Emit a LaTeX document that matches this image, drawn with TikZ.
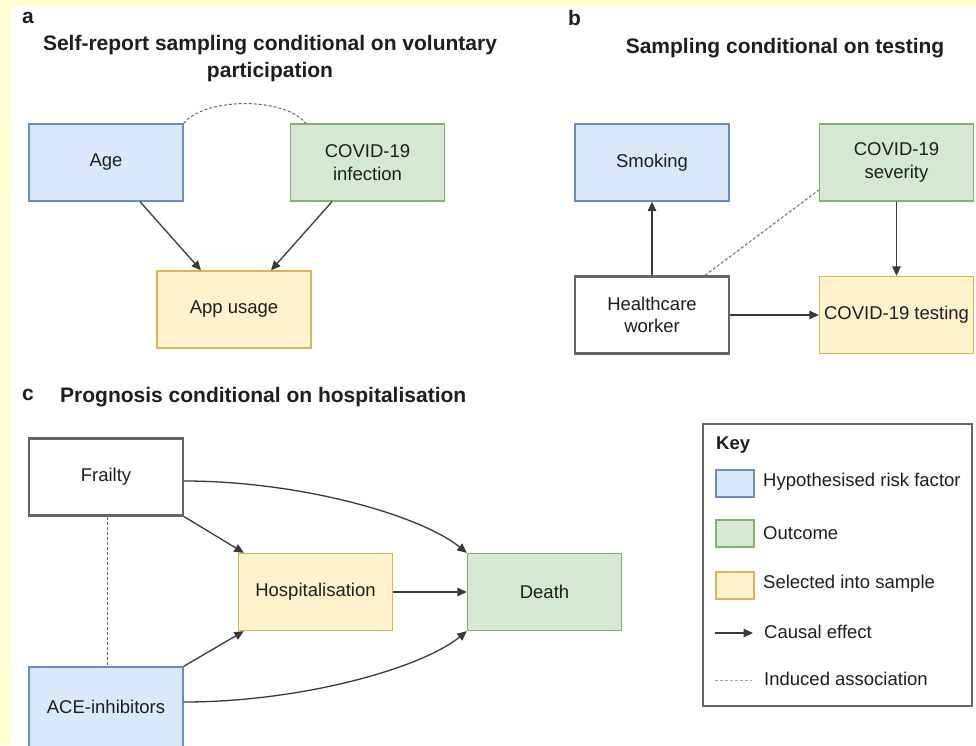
\documentclass[tikz,border=0pt]{standalone}
\usepackage{fontspec}
\setmainfont{Liberation Sans}
\usetikzlibrary{arrows.meta}

\definecolor{pagebg}{HTML}{FFFFD0}
\definecolor{riskfill}{HTML}{DAE8FC}
\definecolor{riskline}{HTML}{6C8EBF}
\definecolor{outfill}{HTML}{D5E8D4}
\definecolor{outline}{HTML}{82B366}
\definecolor{selfill}{HTML}{FFF2CC}
\definecolor{selline}{HTML}{D6B656}
\definecolor{plainline}{HTML}{666666}
\definecolor{ink}{HTML}{1E1E1E}
\definecolor{linkline}{HTML}{3A3A3A}

\tikzset{
  box/.style={rectangle, minimum width=154pt, minimum height=77pt, inner sep=0pt,
    align=center, text=ink, font=\fontsize{18.5}{22.3}\selectfont},
  riskbox/.style={box, fill=riskfill, draw=riskline, line width=1.3pt},
  outbox/.style={box, fill=outfill, draw=outline, line width=1.3pt},
  selbox/.style={box, fill=selfill, draw=selline, line width=1.3pt},
  plainbox/.style={box, fill=white, draw=plainline, line width=2.2pt},
  causal/.style={draw=linkline, line width=1.3pt, -{Triangle[length=9.5pt,width=8.5pt]}},
  induced/.style={draw=plainline, line width=1pt, dash pattern=on 3pt off 2pt},
  paneltag/.style={font=\bfseries\fontsize{21}{25}\selectfont, text=ink, inner sep=0pt},
  paneltitle/.style={font=\bfseries\fontsize{21}{27}\selectfont, text=ink, inner sep=0pt, align=center},
  keytext/.style={anchor=west, inner sep=0pt, text=ink, font=\fontsize{18.5}{22.3}\selectfont},
  swatch/.style={rectangle, minimum width=38pt, minimum height=27pt, inner sep=0pt, line width=1.3pt}
}

\begin{document}
\begin{tikzpicture}[x=1pt,y=-1pt]
  % page and margins
  \useasboundingbox (0,0) rectangle (976,745);
  \fill[pagebg] (0,0) rectangle (976,745);
  \fill[white] (10,6) rectangle (976,745);

  \begin{scope}
  \clip (10,6) rectangle (976,745);

  % ---------- panel a ----------
  \node[paneltag, anchor=west] (tagA) at (22,18) {a};
  \node[paneltitle] (titleA) at (270,58.5) {Self-report sampling conditional on voluntary\\participation};
  \node[riskbox] (age) at (106,162.5) {Age};
  \node[outbox] (cinf) at (367.5,162.5) {COVID-19\\infection};
  \node[selbox] (app) at (234,309.5) {App usage};

  \draw[causal] ([xshift=34pt]age.south) -- ([xshift=-33pt]app.north);
  \draw[causal] ([xshift=-35.5pt]cinf.south) -- ([xshift=37pt]app.north);
  \draw[induced] (age.north east) .. controls (205,97) and (285,97) .. ([xshift=16pt]cinf.north west);

  % ---------- panel b ----------
  \node[paneltag, anchor=west] (tagB) at (568,18) {b};
  \node[paneltitle] (titleB) at (785,48) {Sampling conditional on testing};
  \node[riskbox] (smk) at (652,162.5) {Smoking};
  \node[outbox] (sev) at (896.5,162.5) {COVID-19\\severity};
  \node[plainbox] (hcw) at (652,315) {Healthcare\\worker};
  \node[selbox] (tst) at (896.5,315) {COVID-19 testing};

  \draw[causal] (hcw.north) -- (smk.south);
  \draw[causal] (sev.south) -- (tst.north);
  \draw[causal] (hcw.east) -- (tst.west);
  \draw[induced] ([xshift=53pt]hcw.north) -- ([yshift=-27.5pt]sev.west);

  % ---------- panel c ----------
  \node[paneltag, anchor=west] (tagC) at (22,395) {c};
  \node[paneltitle, anchor=west] (titleC) at (60,397) {Prognosis conditional on hospitalisation};
  \node[plainbox] (frail) at (106,477) {Frailty};
  \node[selbox] (hosp) at (315.5,592) {Hospitalisation};
  \node[outbox] (death) at (544.5,592) {Death};
  \node[riskbox, minimum height=80pt] (ace) at (106,707) {ACE-inhibitors};

  \draw[causal] (frail.south east) -- ([xshift=6pt]hosp.north west);
  \draw[causal] (ace.north east) -- ([xshift=6pt]hosp.south west);
  \draw[causal] (hosp.east) -- (death.west);
  \draw[causal] ([yshift=-4pt]frail.east) .. controls (300,481) and (420,515) .. (death.north west);
  \draw[causal] ([yshift=5pt]ace.east) .. controls (300,702) and (420,669) .. (death.south west);
  \draw[induced] ([xshift=1pt]frail.south) -- ([xshift=1pt]ace.north);

  % ---------- key ----------
  \node[draw=plainline, line width=2pt, minimum width=269pt, minimum height=282pt, inner sep=0pt] (keybox) at (837.5,565) {};
  \node[anchor=west, inner sep=0pt, text=ink, font=\bfseries\fontsize{18.5}{22.3}\selectfont] (keytitle) at (716,445) {Key};
  \node[swatch, fill=riskfill, draw=riskline] (swR) at (735,483.5) {};
  \node[swatch, fill=outfill, draw=outline] (swO) at (735,533.5) {};
  \node[swatch, fill=selfill, draw=selline] (swS) at (735,585.5) {};
  \node[keytext] (kR) at (763,482) {Hypothesised risk factor};
  \node[keytext] (kO) at (763,533) {Outcome};
  \node[keytext] (kS) at (763,584) {Selected into sample};
  \node[keytext] (kC) at (764,632) {Causal effect};
  \node[keytext] (kI) at (764,679) {Induced association};
  \coordinate (kCa) at (715,633);
  \coordinate (kCb) at (753,633);
  \coordinate (kIa) at (715,680);
  \coordinate (kIb) at (752,680);
  \draw[causal] (kCa) -- (kCb);
  \draw[induced, draw=gray!70] (kIa) -- (kIb);
  \end{scope}
\end{tikzpicture}
\end{document}
